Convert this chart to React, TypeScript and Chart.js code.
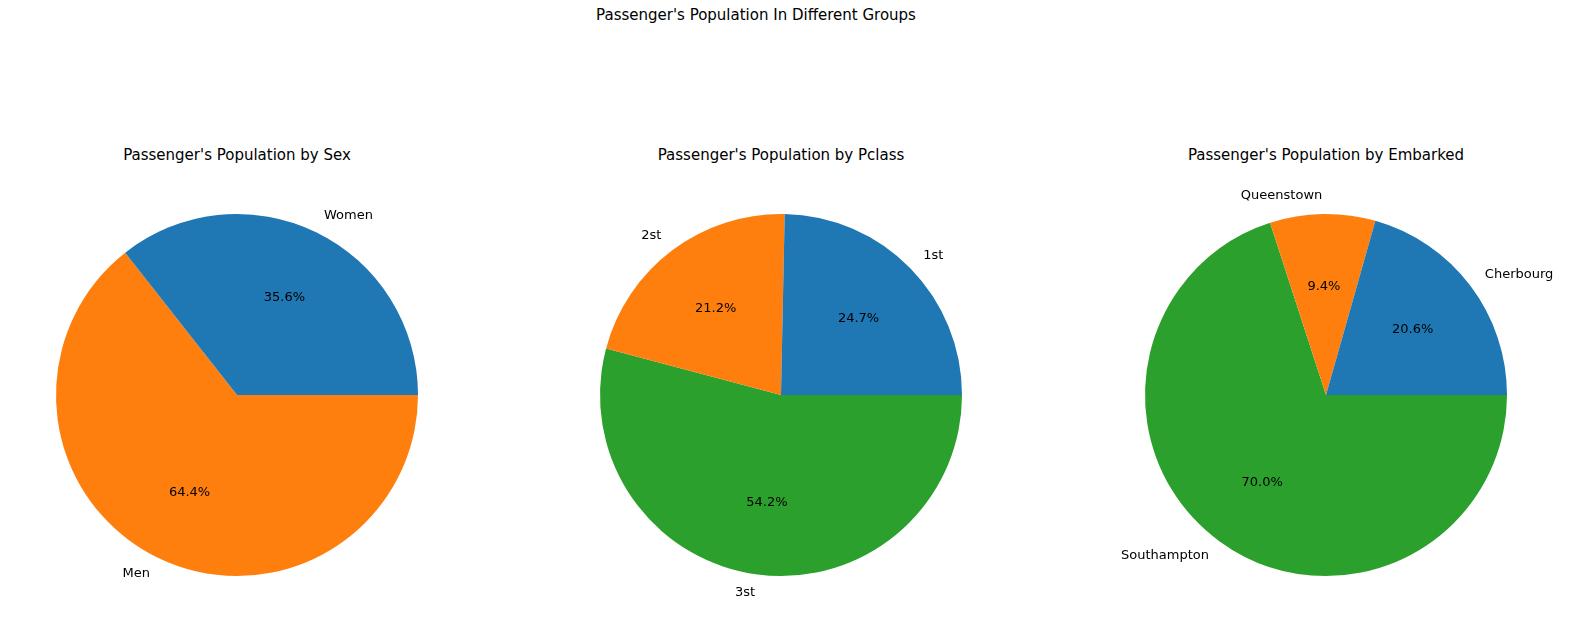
import { useEffect, useRef } from "react";
import Chart from "chart.js/auto";

const COLORS = ["#1f77b4", "#ff7f0e", "#2ca02c"];

const sexLabels = ["Women", "Men"];
const sexPct = [35.6, 64.4];
const classLabels = ["1st", "2st", "3st"];
const classPct = [24.7, 21.2, 54.2];
const embarkLabels = ["Cherbourg", "Queenstown", "Southampton"];
const embarkPct = [20.6, 9.4, 70.0];

const FONT = "'DejaVu Sans', sans-serif";

// matplotlib draws counter-clockwise from 3 o'clock; Chart.js clockwise,
// so feed the slices reversed and start at 90deg.
const pieLabels = {
  id: "pieLabels",
  afterDatasetsDraw(chart: any) {
    const ctx = chart.ctx;
    const names: string[] = chart.data.labels;
    const vals: number[] = chart.data.datasets[0].data;
    chart.getDatasetMeta(0).data.forEach((arc: any, i: number) => {
      const { x, y, startAngle, endAngle, outerRadius } = arc.getProps(
        ["x", "y", "startAngle", "endAngle", "outerRadius"],
        true
      );
      const mid = (startAngle + endAngle) / 2;
      const c = Math.cos(mid);
      const s = Math.sin(mid);
      ctx.save();
      ctx.fillStyle = "#000";
      ctx.font = `13px ${FONT}`;
      ctx.textBaseline = "middle";
      ctx.textAlign = "center";
      ctx.fillText(vals[i].toFixed(1) + "%", x + c * outerRadius * 0.6, y + s * outerRadius * 0.6);
      ctx.textAlign = c > 0 ? "left" : "right";
      ctx.fillText(names[i], x + c * outerRadius * 1.1, y + s * outerRadius * 1.1);
      ctx.restore();
    });
  },
};

function Pie({ labels, values, title, cx }: { labels: string[]; values: number[]; title: string; cx: number }) {
  const ref = useRef<HTMLCanvasElement | null>(null);
  useEffect(() => {
    if (!ref.current) return;
    const n = labels.length;
    const chart = new Chart(ref.current, {
      type: "pie",
      data: {
        labels: [...labels].reverse(),
        datasets: [
          {
            data: [...values].reverse(),
            backgroundColor: COLORS.slice(0, n).reverse(),
            borderWidth: 0,
          },
        ],
      },
      options: {
        responsive: false,
        animation: false,
        rotation: 90,
        layout: { padding: { left: 91, right: 91, top: 39, bottom: 39 } },
        plugins: { legend: { display: false }, tooltip: { enabled: false } },
      },
      plugins: [pieLabels],
    });
    return () => chart.destroy();
  }, [labels, values]);
  return (
    <>
      <div
        style={{
          position: "absolute",
          left: cx - 272,
          width: 544,
          top: 146,
          textAlign: "center",
          font: `15px ${FONT}`,
        }}
      >
        {title}
      </div>
      <canvas
        ref={ref}
        width={544}
        height={440}
        style={{ position: "absolute", left: cx - 272, top: 175, width: 544, height: 440 }}
      />
    </>
  );
}

export default function App() {
  useEffect(() => {
    document.body.style.margin = "0";
  }, []);
  return (
    <div style={{ position: "relative", width: 1575, height: 635, background: "#fff", overflow: "hidden" }}>
      <div style={{ position: "absolute", left: 0, width: 1512, top: 6, textAlign: "center", font: `15px ${FONT}` }}>
        Passenger's Population In Different Groups
      </div>
      <Pie labels={sexLabels} values={sexPct} title="Passenger's Population by Sex" cx={237} />
      <Pie labels={classLabels} values={classPct} title="Passenger's Population by Pclass" cx={781} />
      <Pie labels={embarkLabels} values={embarkPct} title="Passenger's Population by Embarked" cx={1326} />
    </div>
  );
}
